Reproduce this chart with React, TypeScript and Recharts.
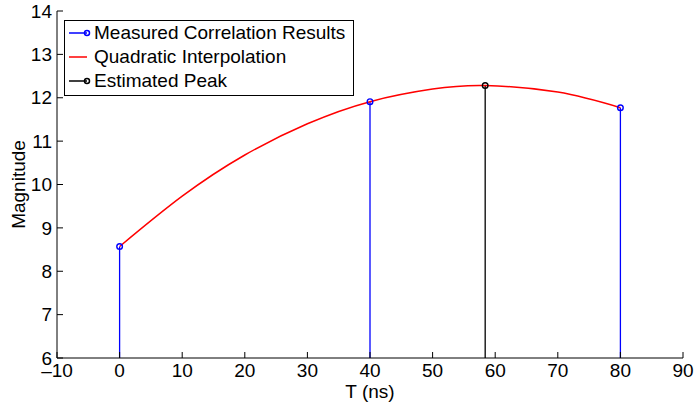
import React from 'react';
import {
  ComposedChart,
  Line,
  Scatter,
  XAxis,
  YAxis,
  ReferenceLine,
  Legend,
} from 'recharts';

// measured correlation samples
const measuredT = [0, 40, 80];
const measuredMag = [8.57, 11.91, 11.77];

// estimated peak
const peakT = [58.4];
const peakMag = [12.28];

// quadratic interpolation curve
const curveT = [0, 10, 20, 30, 40, 50, 58.4, 70, 80];
const curveMag = [8.57, 9.73, 10.68, 11.4, 11.91, 12.2, 12.28, 12.13, 11.77];

const xTicks = [-10, 0, 10, 20, 30, 40, 50, 60, 70, 80, 90];
const yTicks = [6, 7, 8, 9, 10, 11, 12, 13, 14];

const legendItems = [
  { label: 'Measured Correlation Results', color: '#0000ff', marker: true },
  { label: 'Quadratic Interpolation', color: '#ff0000', marker: false },
  { label: 'Estimated Peak', color: '#000000', marker: true },
];

const FONT = '"Liberation Sans", Arial, Helvetica, sans-serif';

const measuredData = measuredT.map((t, i) => ({ t, v: measuredMag[i] }));
const peakData = peakT.map((t, i) => ({ t, v: peakMag[i] }));
const curveData = curveT.map((t, i) => ({ t, v: curveMag[i] }));

const tickStyle = { fontSize: 19, fontFamily: FONT, fill: '#000' };

function ringShape(color: string) {
  return (props: any) => (
    <circle cx={props.cx} cy={props.cy} r={2.8} fill="none" stroke={color} strokeWidth={1.4} />
  );
}

function renderLegend() {
  return (
    <div
      style={{
        border: '1px solid #000',
        background: '#fff',
        padding: '0 0 2px 0',
        fontFamily: FONT,
        fontSize: 19,
        color: '#000',
        boxSizing: 'border-box',
        width: 290,
      }}
    >
      {legendItems.map(item => (
        <div key={item.label} style={{ display: 'flex', alignItems: 'center', height: 24 }}>
          <svg width={26} height={10} style={{ marginLeft: 3 }}>
            <line x1={1} y1={5} x2={19} y2={5} stroke={item.color} strokeWidth={1.5} />
            {item.marker && (
              <circle cx={19} cy={5} r={2.5} fill="none" stroke={item.color} strokeWidth={1.5} />
            )}
          </svg>
          <span style={{ lineHeight: '20px' }}>{item.label}</span>
        </div>
      ))}
    </div>
  );
}

export default function App() {
  return (
    <div style={{ position: 'absolute', left: 0, top: 0, background: '#fff' }}>
      <ComposedChart width={694} height={403} margin={{ top: 11, right: 11, bottom: 0, left: 0 }}>
        <XAxis
          dataKey="t"
          type="number"
          domain={[-10, 90]}
          ticks={xTicks}
          height={45}
          tickSize={-6}
          tickMargin={12}
          tick={tickStyle}
          stroke="#000"
          tickFormatter={(v: number) => (v < 0 ? `\u2013${-v}` : `${v}`)}
          label={{ value: 'T (ns)', position: 'insideBottom', offset: 5, style: { ...tickStyle } }}
        />
        <XAxis
          xAxisId="top"
          orientation="top"
          dataKey="t"
          type="number"
          domain={[-10, 90]}
          ticks={xTicks}
          height={0}
          tickSize={-6}
          tick={false}
          stroke="#000"
        />
        <YAxis
          type="number"
          domain={[6, 14]}
          ticks={yTicks}
          width={57}
          tickSize={-6}
          tickMargin={11}
          tick={tickStyle}
          stroke="#000"
          label={{
            value: 'Magnitude',
            angle: -90,
            position: 'insideLeft',
            offset: 18,
            style: { ...tickStyle, textAnchor: 'middle' },
          }}
        />
        <YAxis
          yAxisId="right"
          orientation="right"
          type="number"
          domain={[6, 14]}
          ticks={yTicks}
          width={0}
          tickSize={-6}
          tick={false}
          stroke="#000"
        />
        {measuredData.map(d => (
          <ReferenceLine
            key={`stem-${d.t}`}
            segment={[{ x: d.t, y: 6 }, { x: d.t, y: d.v }]}
            stroke="#0000ff"
            strokeWidth={1.3}
          />
        ))}
        {peakData.map(d => (
          <ReferenceLine
            key={`peak-${d.t}`}
            segment={[{ x: d.t, y: 6 }, { x: d.t, y: d.v }]}
            stroke="#000"
            strokeWidth={1.3}
          />
        ))}
        <Line
          data={curveData}
          dataKey="v"
          type="natural"
          stroke="#ff0000"
          strokeWidth={1.5}
          dot={false}
          activeDot={false}
          isAnimationActive={false}
        />
        <Scatter data={measuredData} dataKey="v" shape={ringShape('#0000ff')} isAnimationActive={false} />
        <Scatter data={peakData} dataKey="v" shape={ringShape('#000')} isAnimationActive={false} />
        <Legend
          layout="horizontal"
          verticalAlign="middle"
          align="center"
          content={renderLegend}
          wrapperStyle={{ position: 'absolute', left: 64, top: 20, width: 290 }}
        />
      </ComposedChart>
    </div>
  );
}
